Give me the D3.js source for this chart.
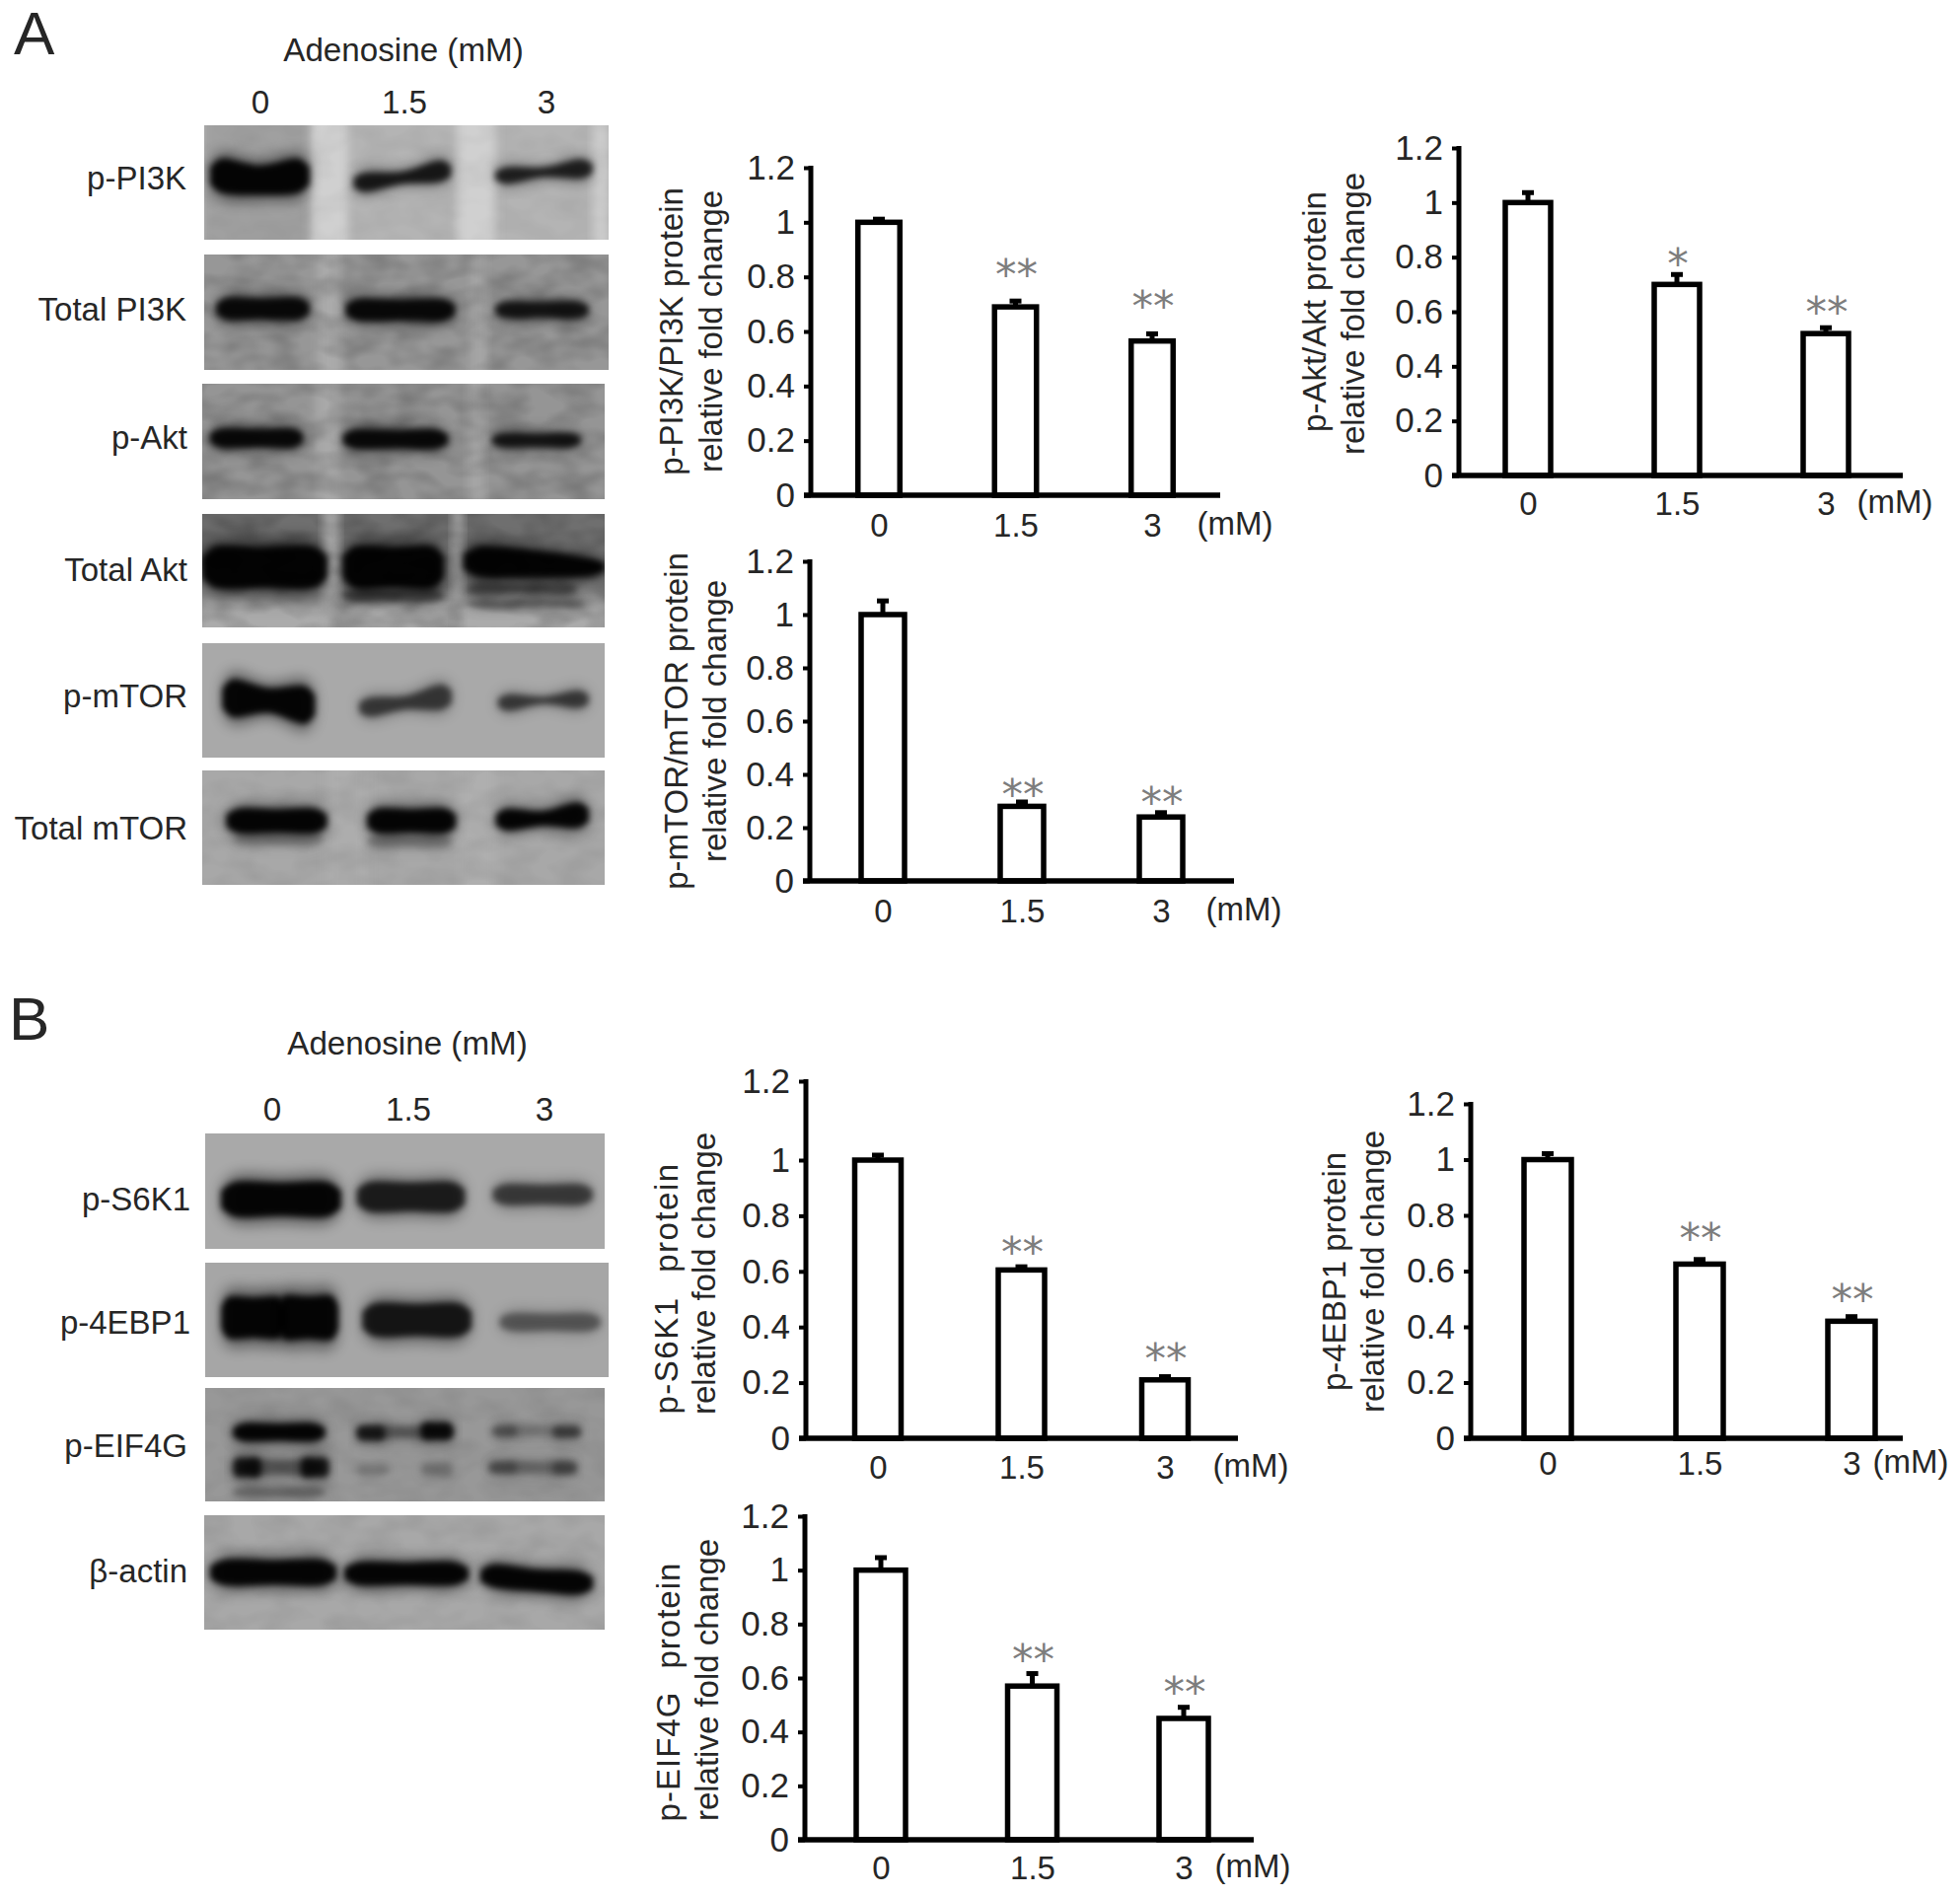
<!DOCTYPE html>
<html><head><meta charset="utf-8">
<script src="https://cdnjs.cloudflare.com/ajax/libs/d3/7.8.5/d3.min.js"></script>
<style>html,body{margin:0;padding:0;background:#fff}svg{display:block}text{font-family:"Liberation Sans",Arial,sans-serif;fill:#262626}</style>
</head><body><svg id="c" width="1987" height="1922"></svg>
<script>
// ---- data ----
const doses = ["0","1.5","3"];
const yTicks = [0,0.2,0.4,0.6,0.8,1,1.2];
const pi3kValues=[1,0.69,0.565], pi3kErr=[0.015,0.025,0.03], pi3kStars=["","**","**"], pi3kStarY=[0,0.83,0.715];
const aktValues=[1,0.70,0.52], aktErr=[0.04,0.04,0.025], aktStars=["","*","**"], aktStarY=[0,0.80,0.62];
const mtorValues=[1,0.28,0.24], mtorErr=[0.055,0.02,0.02], mtorStars=["","**","**"], mtorStarY=[0,0.35,0.32];
const s6k1Values=[1,0.605,0.21], s6k1Err=[0.015,0.015,0.015], s6k1Stars=["","**","**"], s6k1StarY=[0,0.692,0.31];
const ebp1Values=[1,0.625,0.42], ebp1Err=[0.025,0.02,0.02], ebp1Stars=["","**","**"], ebp1StarY=[0,0.74,0.52];
const eif4gValues=[1,0.57,0.45], eif4gErr=[0.05,0.05,0.045], eif4gStars=["","**","**"], eif4gStarY=[0,0.69,0.57];

const svg=d3.select("#c");
const defs=svg.append("defs");
const blur=(id,s)=>defs.append("filter").attr("id",id).attr("x","-30%").attr("y","-80%").attr("width","160%").attr("height","260%").append("feGaussianBlur").attr("stdDeviation",s);
blur("b7",7); blur("b5",5); blur("b3",3.4); blur("b12",12);
const noise=defs.append("filter").attr("id","noise").attr("x",0).attr("y",0).attr("width","100%").attr("height","100%");
noise.append("feTurbulence").attr("type","fractalNoise").attr("baseFrequency","0.03 0.05").attr("numOctaves",2).attr("seed",7);
noise.append("feColorMatrix").attr("values","0 0 0 0 0  0 0 0 0 0  0 0 0 0 0  1.6 0 0 0 -0.55");

// ---- blots: each band {x:[from,to], y:[left,mid,right], t:[left,mid,right], k:darkness} in panel fractions ----
const B=(x0,x1,y,t,k)=>({x:[x0,x1],y:Array.isArray(y)?y:[y,y,y],t:Array.isArray(t)?t:[t,t,t],k});
const blots=[
 {name:"p-PI3K",box:[207,127,617,243],bg:"#b4b4b4",tex:.05,gaps:[[.265,.355,"#d0d0d0"],[.625,.72,"#d0d0d0"],[.96,1,"#cccccc"]],shade:[[0,.27,"#a0a0a0"]],
  bands:[B(.015,.26,[.44,.48,.44],[.27,.24,.27],1),B(.37,.61,[.5,.46,.4],[.15,.1,.17],.85),B(.72,.96,[.44,.41,.38],[.13,.08,.15],.8)]},
 {name:"Total PI3K",box:[207,258,617,375],bg:"#979797",tex:.22,gaps:[[.28,.34,"#aaaaaa"],[.66,.7,"#a6a6a6"]],shade:[],
  bands:[B(.03,.26,.47,.17,.95),B(.35,.62,.48,.17,.95),B(.72,.95,.48,.13,.85)]},
 {name:"p-Akt",box:[205,389,613,506],bg:"#959595",tex:.22,gaps:[[.28,.34,"#a9a9a9"],[.66,.7,"#a6a6a6"]],shade:[],
  bands:[B(.02,.25,.47,.15,.95),B(.35,.61,.48,.15,.95),B(.72,.94,.49,.11,.85)]},
 {name:"Total Akt",box:[205,521,613,636],bg:"#6f6f6f",tex:.25,gaps:[[.3,.34,"#a8a8a8"],[.62,.65,"#9c9c9c"]],shade:[[0,1,"#7a7a7a"]],
  lower:"#ababab",
  bands:[B(0,.31,.47,.33,1),B(.35,.6,.47,.33,1),B(.35,.6,.72,.1,.42),B(.65,1,[.42,.44,.47],[.24,.22,.14],1),B(.66,.93,.66,.09,.38),B(.66,.95,.79,.07,.32)]},
 {name:"p-mTOR",box:[205,652,613,768],bg:"#a9a9a9",tex:0,gaps:[],shade:[],
  bands:[B(.05,.28,[.48,.5,.54],[.3,.2,.3],1),B(.39,.62,[.56,.52,.47],[.15,.11,.2],.62),B(.735,.96,[.52,.5,.49],[.13,.06,.14],.62)]},
 {name:"Total mTOR",box:[205,781,613,897],bg:"#a8a8a8",tex:.08,gaps:[[.31,.41,"#adadad"],[.64,.73,"#afafaf"]],shade:[],
  bands:[B(.06,.31,.44,.19,1),B(.41,.63,.44,.19,1),B(.73,.96,[.43,.42,.39],[.17,.12,.2],1),B(.08,.3,.6,.1,.18),B(.41,.62,.62,.1,.22)]},
 {name:"p-S6K1",box:[208,1149,613,1266],bg:"#a9a9a9",tex:0,gaps:[],shade:[],
  bands:[B(.04,.34,.57,.27,1),B(.38,.65,.55,.23,.8),B(.72,.97,.53,.16,.6)]},
 {name:"p-4EBP1",box:[208,1280,617,1396],bg:"#a6a6a6",tex:0,gaps:[],shade:[],
  bands:[B(.04,.2,.48,.33,1),B(.18,.33,.48,.35,1),B(.39,.66,.5,.26,.85),B(.73,.98,.52,.14,.42)]},
 {name:"p-EIF4G",box:[208,1407,613,1522],bg:"#989898",tex:.08,gaps:[],shade:[],
  bands:[B(.07,.3,.39,.14,1),B(.09,.29,.7,.12,.38),B(.07,.14,.7,.15,.85),B(.24,.31,.7,.15,.85),B(.07,.3,.92,.08,.28),
         B(.38,.62,.39,.1,.38),B(.38,.45,.4,.11,.7),B(.54,.62,.38,.13,.9),B(.38,.46,.72,.08,.16),B(.54,.62,.72,.1,.2),
         B(.72,.94,.38,.09,.2),B(.72,.78,.38,.08,.28),B(.87,.94,.39,.09,.45),B(.71,.93,.7,.1,.28),B(.71,.78,.7,.09,.25),B(.87,.93,.71,.1,.32)]},
 {name:"β-actin",box:[207,1536,613,1652],bg:"#a8a8a8",tex:.08,gaps:[],shade:[],
  bands:[B(.015,.33,.5,.2,1),B(.35,.66,.51,.18,1),B(.69,.97,[.53,.57,.59],.18,1)]}
];
const blotLabels=[["p-PI3K",189,181],["Total PI3K",189,314],["p-Akt",190,444],["Total Akt",190,578],["p-mTOR",190,706],["Total mTOR",190,840],["p-S6K1",193,1216],["p-4EBP1",193,1341],["p-EIF4G",190,1466],["β-actin",190,1593]];

const area=d3.area().curve(d3.curveCatmullRom);
blots.forEach((b,i)=>{
  const [x0,y0,x1,y1]=b.box, w=x1-x0, h=y1-y0;
  const X=d3.scaleLinear([0,1],[x0,x1]), Y=d3.scaleLinear([0,1],[y0,y1]);
  const id="clip"+i;
  defs.append("clipPath").attr("id",id).append("rect").attr("x",x0).attr("y",y0).attr("width",w).attr("height",h);
  const g=svg.append("g").attr("clip-path",`url(#${id})`);
  g.append("rect").attr("x",x0).attr("y",y0).attr("width",w).attr("height",h).attr("fill",b.bg);
  if(b.lower) g.append("rect").attr("x",x0-20).attr("y",Y(.72)).attr("width",w+40).attr("height",h).attr("fill",b.lower).attr("filter","url(#b12)");
  b.shade.forEach(s=>{ if(!b.lower) g.append("rect").attr("x",X(s[0])).attr("y",y0-20).attr("width",X(s[1])-X(s[0])).attr("height",h+40).attr("fill",s[2]).attr("filter","url(#b3)");});
  b.gaps.forEach(s=>g.append("rect").attr("x",X(s[0])).attr("y",y0-20).attr("width",X(s[1])-X(s[0])).attr("height",h+40).attr("fill",s[2]).attr("filter","url(#b5)"));
  if(b.tex>0) g.append("rect").attr("x",x0).attr("y",y0).attr("width",w).attr("height",h).attr("filter","url(#noise)").attr("opacity",b.tex);
  const bandD=(d,scale)=>{
     const xs=[0,.1,.5,.9,1].map(f=>X(d.x[0]+(d.x[1]-d.x[0])*f));
     const cy=[d.y[0],d.y[0],d.y[1],d.y[2],d.y[2]].map(Y);
     const th=[d.t[0]*.5,d.t[0],d.t[1],d.t[2],d.t[2]*.5].map(v=>v*scale*h/2);
     return area.x((_,j)=>xs[j]).y0((_,j)=>cy[j]-th[j]).y1((_,j)=>cy[j]+th[j])(xs);
  };
  g.selectAll("path.halo").data(b.bands).join("path").attr("class","halo")
   .attr("d",d=>bandD(d,1.55)).attr("fill","#000").attr("opacity",d=>d.k*.42).attr("filter","url(#b7)");
  g.selectAll("path.band").data(b.bands).join("path").attr("class","band")
   .attr("d",d=>bandD(d,1.08)).attr("fill","#000").attr("opacity",d=>d.k*.95).attr("filter","url(#b3)");
});
blotLabels.forEach(l=>svg.append("text").attr("x",l[1]).attr("y",l[2]+11).attr("text-anchor","end").attr("font-size",33).text(l[0]));

// ---- headers ----
const T=(x,y,s,fs,a="middle")=>svg.append("text").attr("x",x).attr("y",y).attr("text-anchor",a).attr("font-size",fs).text(s);
T(14,55,"A",62,"start"); T(9,1054,"B",62,"start");
T(409,62,"Adenosine (mM)",33.2); T(413,1069,"Adenosine (mM)",33.2);
const headA=d3.scalePoint(doses,[264,554]), headB=d3.scalePoint(doses,[276,552]);
doses.forEach(d=>{T(d==="1.5"?410:headA(d),115,d,33.2);T(d==="1.5"?414:headB(d),1136,d,33.2);});

// ---- charts ----
function chart(o){
  const y=d3.scaleLinear(o.dom||[0,1.2],o.rng);
  const x=d3.scalePoint(doses,[o.c0,o.c2]);
  const y0=y(0), y1=y(1.2);
  const g=svg.append("g");
  const ya=g.append("g").attr("transform",`translate(${o.ax},0)`)
    .call(d3.axisLeft(y).tickValues(yTicks).tickSize(7).tickPadding(9).tickFormat(d=>d));
  ya.select(".domain").attr("stroke","#000").attr("stroke-width",5).attr("d",`M0,${y1-2}V${y0}`);
  ya.selectAll(".tick line").attr("stroke","#000").attr("stroke-width",4);
  ya.selectAll("text").attr("font-size",35).attr("font-family",'"Liberation Sans"').attr("fill","#262626");
  const xa=g.append("g");
  xa.attr("transform",`translate(0,${y0})`).call(d3.axisBottom(x).tickSize(0).tickPadding(o.labY-y0-12));
  xa.select(".domain").remove();
  xa.selectAll("text").attr("font-size",33).attr("font-family",'"Liberation Sans"').attr("fill","#262626");
  const bw=o.bw;
  g.selectAll("line.err").data(o.vals).join("line").attr("class","err")
    .attr("x1",(d,i)=>x(doses[i])).attr("x2",(d,i)=>x(doses[i]))
    .attr("y1",d=>y(d)).attr("y2",(d,i)=>y(d+o.err[i]))
    .attr("stroke","#000").attr("stroke-width",5);
  g.selectAll("line.cap").data(o.vals).join("line").attr("class","cap")
    .attr("x1",(d,i)=>x(doses[i])-6).attr("x2",(d,i)=>x(doses[i])+6)
    .attr("y1",(d,i)=>y(d+o.err[i])+1).attr("y2",(d,i)=>y(d+o.err[i])+1)
    .attr("stroke","#000").attr("stroke-width",5);
  g.selectAll("rect.bar").data(o.vals).join("rect").attr("class","bar")
    .attr("x",(d,i)=>x(doses[i])-bw/2).attr("width",bw)
    .attr("y",d=>y(d)).attr("height",d=>y(0)-y(d))
    .attr("fill","#fff").attr("stroke","#000").attr("stroke-width",5.5);
  g.append("line").attr("x1",o.ax-7).attr("x2",o.xEnd).attr("y1",y0).attr("y2",y0).attr("stroke","#000").attr("stroke-width",5.5);
  g.selectAll("text.star").data(o.stars).join("text").attr("class","star")
    .attr("x",(d,i)=>x(doses[i])+1).attr("y",(d,i)=>y(o.starY[i])+21)
    .attr("text-anchor","middle").attr("font-size",43).style("font-family",'"DejaVu Sans"').style("fill","#7d7d7d").text(d=>d);
  T(o.mmX,o.labY+9,"(mM)",33);
  o.lab.forEach((s,i)=>{
    svg.append("text").attr("transform",`translate(${o.labX[i]+12},${o.labC[i]}) rotate(-90)`).attr("text-anchor","middle").attr("font-size",33)
      .style("word-spacing",i===0&&o.wordGap?o.wordGap+"px":null)
      .style("letter-spacing",i===0&&o.letterGap?o.letterGap+"px":null).text(s);
  });
}
chart({ax:822,rng:[502,170],xEnd:1237,c0:891,c2:1168,bw:42.5,labY:533,mmX:1252,vals:pi3kValues,err:pi3kErr,stars:pi3kStars,starY:pi3kStarY,lab:["p-PI3K/PI3K protein","relative fold change"],labX:[680,720],labC:[336,336]});
chart({ax:1479,rng:[482,150],xEnd:1929,c0:1549,c2:1851,bw:46,labY:511,mmX:1921,vals:aktValues,err:aktErr,stars:aktStars,starY:aktStarY,lab:["p-Akt/Akt protein","relative fold change"],labX:[1332,1371],labC:[316,318]});
chart({ax:821,rng:[893,569],xEnd:1251,c0:895,c2:1177,bw:44,labY:924,mmX:1261,vals:mtorValues,err:mtorErr,stars:mtorStars,starY:mtorStarY,lab:["p-mTOR/mTOR protein","relative fold change"],labX:[685,724],labC:[731,731]});
chart({ax:817,dom:[0,1,1.2],rng:[1458,1176,1096],xEnd:1255,c0:890,c2:1181,bw:47,labY:1488,mmX:1268,vals:s6k1Values,err:s6k1Err,stars:s6k1Stars,starY:s6k1StarY,lab:["p-S6K1 protein","relative fold change"],labX:[675,713],labC:[1306,1291],wordGap:14,letterGap:1.5});
chart({ax:1491,rng:[1458,1119],xEnd:1929,c0:1569,c2:1877,bw:48,labY:1484,mmX:1937,vals:ebp1Values,err:ebp1Err,stars:ebp1Stars,starY:ebp1StarY,lab:["p-4EBP1 protein","relative fold change"],labX:[1352,1391],labC:[1289,1289]});
chart({ax:816,rng:[1865,1537],xEnd:1271,c0:893,c2:1200,bw:50,labY:1894,mmX:1270,vals:eif4gValues,err:eif4gErr,stars:eif4gStars,starY:eif4gStarY,lab:["p-EIF4G protein","relative fold change"],labX:[677,716],labC:[1715,1703],wordGap:13,letterGap:1});
</script></body></html>
